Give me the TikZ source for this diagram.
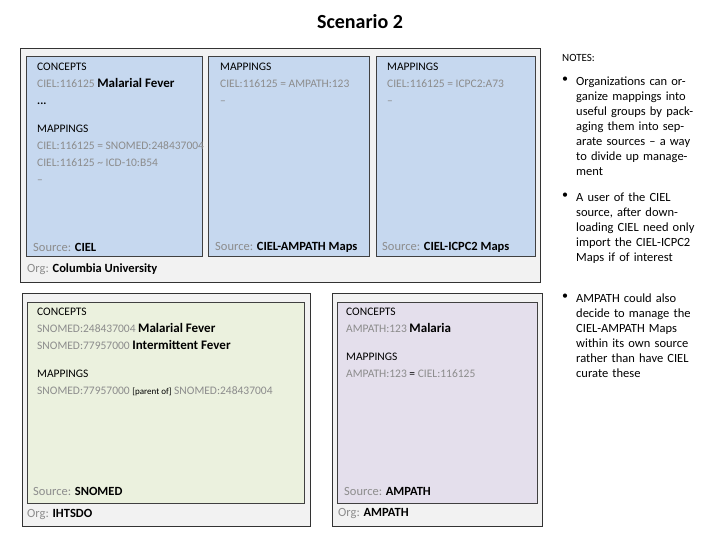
\documentclass[tikz,border=0pt]{standalone}
\usepackage{fontspec}
\setmainfont{Carlito}
\newcommand{\nohyph}{\hyphenpenalty 10000 \exhyphenpenalty 10000 \raggedright}
\begin{document}
\begin{tikzpicture}[x=1pt,y=-1pt,
  org/.style={draw=black!80,fill=black!5,line width=0.8pt},
  src/.style={draw=black!75,line width=0.7pt},
  txt/.style={anchor=north west,inner sep=0,align=left,font=\fontsize{11.5}{17}\selectfont},
  lab/.style={anchor=west,inner sep=0,font=\fontsize{12.5}{14}\selectfont},
  note/.style={anchor=north west,inner sep=0,text width=122pt,font=\fontsize{12.5}{15}\selectfont}]
\useasboundingbox (0,0) rectangle (720,540);
\definecolor{cblue}{HTML}{C6D8EF}
\definecolor{cgreen}{HTML}{EBF1DE}
\definecolor{cpurp}{HTML}{E4DFEC}
\node[font=\bfseries\fontsize{20}{24}\selectfont] (title) at (360,22) {Scenario 2};
% org 1
\draw[org] (20,48) rectangle (540,282);
\draw[src,fill=cblue] (26,56) rectangle (202,256);
\draw[src,fill=cblue] (208,56) rectangle (369,256);
\draw[src,fill=cblue] (376,56) rectangle (535,256);
\node[txt] (c1) at (37,63) {CONCEPTS\\
 {\color{black!45}CIEL:116125} {\bfseries\fontsize{13}{15}\selectfont Malarial Fever}\\
 \textbf{...}\\[11pt]
 MAPPINGS\\
 {\color{black!45}CIEL:116125 = SNOMED:248437004}\\
 {\color{black!45}CIEL:116125 \textasciitilde{} ICD-10:B54}\\
 {\color{black!45}--}};
\node[txt] (c2) at (220,63) {MAPPINGS\\{\color{black!45}CIEL:116125 = AMPATH:123}\\{\color{black!45}--}};
\node[txt] (c3) at (387,63) {MAPPINGS\\{\color{black!45}CIEL:116125 = ICPC2:A73}\\{\color{black!45}--}};
\node[lab] (s1) at (33,247) {{\color{black!45}Source:} \textbf{CIEL}};
\node[lab] (s2) at (215,247) {{\color{black!45}Source:} \textbf{CIEL-AMPATH Maps}};
\node[lab] (s3) at (382,247) {{\color{black!45}Source:} \textbf{CIEL-ICPC2 Maps}};
\node[lab] (o1) at (27,269) {{\color{black!45}Org:} \textbf{Columbia University}};
% org 2
\draw[org] (22,293) rectangle (310,526);
\draw[src,fill=cgreen] (27,302) rectangle (304,503);
\node[txt] (c4) at (37,308) {CONCEPTS\\
 {\color{black!45}SNOMED:248437004} {\bfseries\fontsize{13}{15}\selectfont Malarial Fever}\\
 {\color{black!45}SNOMED:77957000} {\bfseries\fontsize{13}{15}\selectfont Intermittent Fever}\\[11pt]
 MAPPINGS\\
 {\color{black!45}SNOMED:77957000} {\fontsize{9}{11}\selectfont[parent of]} {\color{black!45}SNOMED:248437004}};
\node[lab] (s4) at (33,491) {{\color{black!45}Source:} \textbf{SNOMED}};
\node[lab] (o2) at (27,514) {{\color{black!45}Org:} \textbf{IHTSDO}};
% org 3
\draw[org] (332,293) rectangle (542,526);
\draw[src,fill=cpurp] (337,302) rectangle (537,503);
\node[txt] (c5) at (346,308) {CONCEPTS\\
 {\color{black!45}AMPATH:123} {\bfseries\fontsize{13}{15}\selectfont Malaria}\\[11pt]
 MAPPINGS\\
 {\color{black!45}AMPATH:123} = {\color{black!45}CIEL:116125}};
\node[lab] (s5) at (344,491) {{\color{black!45}Source:} \textbf{AMPATH}};
\node[lab] (o3) at (338,514) {{\color{black!45}Org:} \textbf{AMPATH}};
% notes
\node[txt,font=\fontsize{11}{13}\selectfont] (nt) at (562,54) {NOTES:};
\node[note] (n1) at (576,77) {\nohyph Organizations can organize mappings into useful groups by packaging them into separate sources -- a way to divide up management};
\node[note] (n2) at (576,193) {\nohyph A user of the CIEL source, after downloading CIEL need only import the CIEL-ICPC2 Maps if of interest};
\node[note] (n3) at (576,294) {\nohyph AMPATH could also decide to manage the CIEL-AMPATH Maps within its own source rather than have CIEL curate these};
\foreach \y/\n in {77/b1,193/b2,294/b3} \node[anchor=north west,inner sep=0,font=\fontsize{12}{15}\selectfont] (\n) at (562,\y) {•};
\end{tikzpicture}
\end{document}
